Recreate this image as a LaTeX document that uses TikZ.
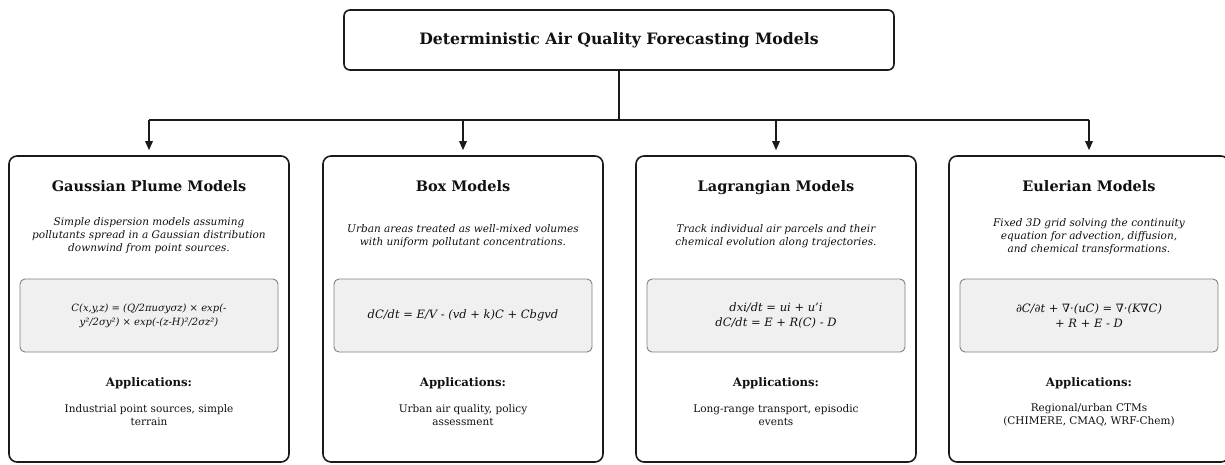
\documentclass[tikz,border=0pt]{standalone}
\usepackage{fontspec}
\setmainfont{DejaVu Serif}
\usetikzlibrary{arrows.meta}

\definecolor{edge}{HTML}{1A1A1A}
\definecolor{eqfill}{HTML}{F0F0F0}
\definecolor{eqedge}{HTML}{808080}
\definecolor{ink}{HTML}{111111}

\tikzset{
  root/.style={draw=edge, line width=1.6pt, rounded corners=6pt, fill=white,
    minimum width=550pt, minimum height=60pt, inner sep=0pt,
    font=\fontsize{15.7}{18}\selectfont\bfseries, text=ink},
  modelbox/.style={draw=edge, line width=1.6pt, rounded corners=8pt, fill=white,
    minimum width=280pt, minimum height=306pt, inner sep=0pt},
  eqbox/.style={draw=eqedge, line width=0.9pt, rounded corners=5pt, fill=eqfill,
    minimum width=258pt, minimum height=73pt, inner sep=0pt, align=center,
    font=\fontsize{11.5}{15.5}\selectfont\itshape, text=ink},
  eqsmall/.style={font=\fontsize{10}{14}\selectfont\itshape},
  mtitle/.style={font=\fontsize{14.5}{17}\selectfont\bfseries, text=ink, inner sep=0pt, anchor=base},
  mdesc/.style={font=\fontsize{10.5}{13}\selectfont\itshape, align=center, text=ink, inner sep=0pt},
  apphead/.style={font=\fontsize{11.7}{14}\selectfont\bfseries, text=ink, inner sep=0pt, anchor=base},
  apptext/.style={font=\fontsize{10.5}{12.5}\selectfont, align=center, text=ink, inner sep=0pt},
  link/.style={line width=1.5pt, draw=edge},
  feed/.style={link, -{Triangle[length=9pt,width=7.5pt]}, shorten >=5pt},
}

\begin{document}
\begin{tikzpicture}[x=1pt, y=-1pt]
\useasboundingbox (0,0) rectangle (1225,464);

% root of the hierarchy
\node[root] (top) at (619,40) {Deterministic Air Quality Forecasting Models};
\coordinate (bus) at (619,120);

% the four model families
\node[modelbox] (g) at (149,309)  {};
\node[modelbox] (b) at (463,309)  {};
\node[modelbox] (l) at (776,309)  {};
\node[modelbox] (e) at (1089,309) {};

% branch connectors
\draw[link] (top.south) -- (bus);
\draw[link] (bus -| g.north) -- (bus -| e.north);
\foreach \m in {g,b,l,e}
  \draw[feed] (bus -| \m.north) -- (\m.north);

% Gaussian plume
\node[mtitle] (gt) at (149,191) {Gaussian Plume Models};
\node[mdesc]  (gd) at (149,236) {Simple dispersion models assuming\\pollutants spread in a Gaussian distribution\\downwind from point sources.};
\node[eqbox, eqsmall] (gq) at (149,315.5) {C(x,y,z) = (Q/2πuσyσz) × exp(-\\y²/2σy²) × exp(-(z-H)²/2σz²)};
\node[apphead] (ga) at (149,386) {Applications:};
\node[apptext] (gx) at (149,415) {Industrial point sources, simple\\terrain};

% box
\node[mtitle] (bt) at (463,191) {Box Models};
\node[mdesc]  (bd) at (463,236.5) {Urban areas treated as well-mixed volumes\\with uniform pollutant concentrations.};
\node[eqbox]  (bq) at (463,315.5) {dC/dt = E/V - (vd + k)C + Cbgvd};
\node[apphead] (ba) at (463,386) {Applications:};
\node[apptext] (bx) at (463,415) {Urban air quality, policy\\assessment};

% Lagrangian
\node[mtitle] (lt) at (776,191) {Lagrangian Models};
\node[mdesc]  (ld) at (776,236.5) {Track individual air parcels and their\\chemical evolution along trajectories.};
\node[eqbox]  (lq) at (776,315.5) {dxi/dt = ui + u'i\\dC/dt = E + R(C) - D};
\node[apphead] (la) at (776,386) {Applications:};
\node[apptext] (lx) at (776,415) {Long-range transport, episodic\\events};

% Eulerian
\node[mtitle] (et) at (1089,191) {Eulerian Models};
\node[mdesc]  (ed) at (1089,237) {Fixed 3D grid solving the continuity\\equation for advection, diffusion,\\and chemical transformations.};
\node[eqbox]  (eq) at (1089,315.5) {∂C/∂t + ∇·(uC) = ∇·(K∇C)\\+ R + E - D};
\node[apphead] (ea) at (1089,386) {Applications:};
\node[apptext] (ex) at (1089,415) {Regional/urban CTMs\\(CHIMERE, CMAQ, WRF-Chem)};
\end{tikzpicture}
\end{document}
